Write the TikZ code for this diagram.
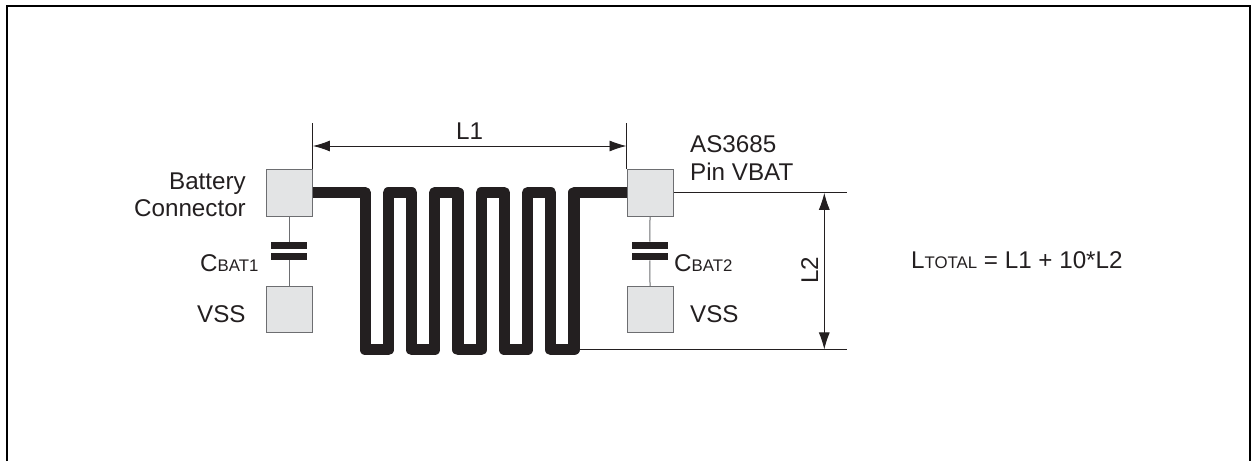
\documentclass[tikz,border=0pt]{standalone}
\usepackage{fontspec}
\setmainfont{Liberation Sans}
\usetikzlibrary{arrows.meta, positioning}
\definecolor{inkcol}{HTML}{231F20}
\definecolor{padfill}{HTML}{E3E4E5}
\definecolor{padline}{HTML}{6D6E71}
\newcommand{\lowtext}[1]{{\fontsize{16.8}{19}\selectfont #1}}

\begin{document}
\begin{tikzpicture}[
    x=1pt, y=1pt,
    node distance=69.4pt and 313.6pt,
    pad/.style={draw=padline, fill=padfill, line width=0.9pt, minimum size=46.5pt, inner sep=0pt},
    plate/.style={fill=inkcol, minimum width=36.5pt, minimum height=7.2pt, inner sep=0pt},
    lbl/.style={font=\fontsize{24.2}{27}\selectfont, text=inkcol, inner sep=0pt, anchor=base west},
    trace/.style={draw=inkcol, line width=11.3pt, line join=round},
    thin/.style={draw=inkcol, line width=0.9pt},
    wire/.style={draw=padline, line width=1pt},
    dimarrow/.style={draw=inkcol, line width=0.9pt, {Latex[length=17pt,width=11pt]}-{Latex[length=17pt,width=11pt]}},
]
\useasboundingbox (0,0) rectangle (1251,461);
\draw[black, line width=2pt] (7,0) -- (7,455) -- (1250.3,455) -- (1250.3,0);
% pads
\node[pad] (batpad) at (289.2,268.2) {};
\node[pad, right=of batpad] (pinpad) {};
\node[pad, below=of batpad] (vssa) {};
\node[pad, below=of pinpad] (vssb) {};
% capacitors
\node[plate] (capa1) at (289.2,215.5) {};
\node[plate, below=3.6pt of capa1] (capa2) {};
\node[plate] (capb1) at (649.8,215.5) {};
\node[plate, below=3.6pt of capb1] (capb2) {};
\draw[wire] (batpad) -- (capa1);
\draw[wire] (capa2) -- (vssa);
\draw[wire] (pinpad) -- (capb1);
\draw[wire] (capb2) -- (vssb);
% meander
\draw[trace] (batpad.east) -- ++(52.3,0) -- ++(0,-157)
  \foreach \i in {1,...,4} { -- ++(23.2,0) -- ++(0,157) -- ++(23.2,0) -- ++(0,-157) }
  -- ++(23.2,0) -- ++(0,157) coordinate (tracetop) -- (pinpad.west);
\coordinate (tracebot) at (579,111.5);
% dimensions
\coordinate (l1a) at (batpad.north east |- 0,338);
\coordinate (l1b) at (pinpad.north west |- 0,338);
\coordinate (l1c) at (batpad.north east |- 0,315);
\coordinate (l1d) at (pinpad.north west |- 0,315);
\draw[thin] (batpad.north east) -- (l1a);
\draw[thin] (pinpad.north west) -- (l1b);
\draw[dimarrow] (l1c) -- (l1d);
\coordinate (l2a) at (847,268.2);
\coordinate (l2b) at (847,111.5);
\coordinate (l2c) at (824.3,268.2);
\coordinate (l2d) at (824.3,111.5);
\draw[thin] (pinpad.east) -- (l2a);
\draw[thin] (tracebot) -- (l2b);
\draw[dimarrow] (l2c) -- (l2d);
% labels
\node[lbl, anchor=base east] (labbat) at (246,271) {Battery};
\node[lbl, anchor=base east] (labcon) at (246,244) {Connector};
\node[lbl] (labca) at (200,189) {C\lowtext{BAT1}};
\node[lbl] (labvssa) at (197,139) {VSS};
\node[lbl] (labas) at (690,308) {AS3685};
\node[lbl] (labpin) at (690,280) {Pin VBAT};
\node[lbl] (labcb) at (674,189) {C\lowtext{BAT2}};
\node[lbl] (labvssb) at (690,139) {VSS};
\node[lbl] (labl1) at (456,321) {L1};
\node[lbl, rotate=90, anchor=base] (labl2) at (818,190.5) {L2};
\node[lbl] (labtot) at (911,192) {L\lowtext{TOTAL} = L1 + 10*L2};
\end{tikzpicture}
\end{document}
